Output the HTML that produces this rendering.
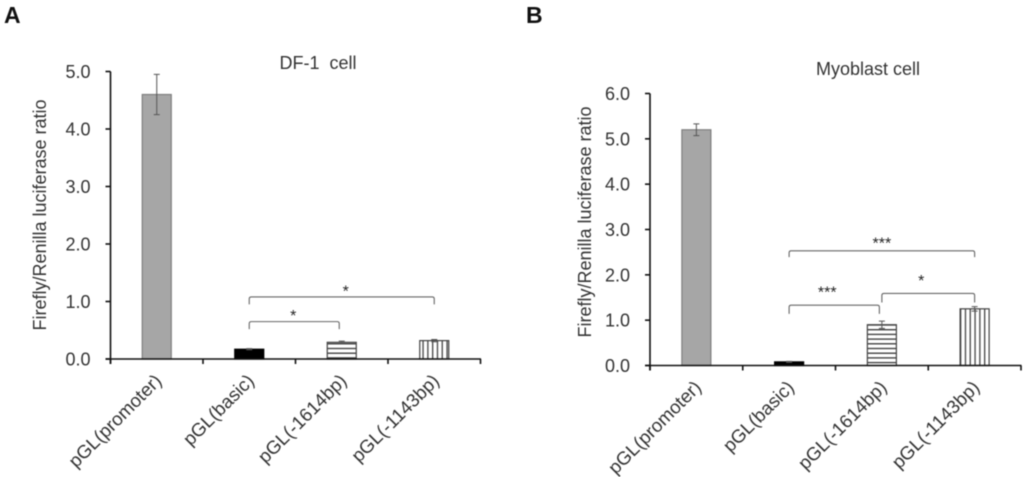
<!DOCTYPE html>
<html lang="en">
<head>
<meta charset="utf-8">
<title>Luciferase ratio charts</title>
<style>
html,body{margin:0;padding:0;background:#fff;width:1024px;height:477px;overflow:hidden}
svg{display:block;font-family:"Liberation Sans",sans-serif;filter:blur(0.4px)}
</style>
</head>
<body>
<svg id="chart" width="1024" height="477" viewBox="0 0 1024 477" xmlns="http://www.w3.org/2000/svg">
<defs>
<pattern id="hatch-h" width="8" height="4.7" patternUnits="userSpaceOnUse"><rect width="8" height="4.7" fill="#fff"/><rect y="0" width="8" height="1.4" fill="#444"/></pattern>
<pattern id="hatch-v" width="4.8" height="8" patternUnits="userSpaceOnUse"><rect width="4.8" height="8" fill="#fff"/><rect x="0" width="1.3" height="8" fill="#444"/></pattern>
</defs>
</svg>
<script>
const categories = ['pGL(promoter)', 'pGL(basic)', 'pGL(-1614bp)', 'pGL(-1143bp)'];
const fills = ['#a6a6a6', '#000000', 'url(#hatch-h)', 'url(#hatch-v)'];
const strokes = ['#7f7f7f', '#000000', '#444444', '#444444'];

const dfTicks = [0, 1, 2, 3, 4, 5];
const dfValues = [4.6, 0.17, 0.29, 0.32];
const dfErrors = [0.35, 0.01, 0.02, 0.02];
const dfBrackets = [
  {from: 1, to: 2, level: 0.65, drop: 0.13, label: '*', lift: 9, shift: -1},
  {from: 1, to: 3, level: 1.08, drop: 0.13, label: '*', lift: 9, shift: 4}
];

const myoTicks = [0, 1, 2, 3, 4, 5, 6];
const myoValues = [5.2, 0.08, 0.9, 1.25];
const myoErrors = [0.13, 0.01, 0.08, 0.05];
const myoBrackets = [
  {from: 1, to: 2, level: 1.33, drop: 0.19, label: '***', lift: 16, shift: -7},
  {from: 2, to: 3, level: 1.59, drop: 0.2, label: '*', lift: 16, shift: -7},
  {from: 1, to: 3, level: 2.53, drop: 0.14, label: '***', lift: 11, shift: 0}
];

const svg = document.getElementById('chart');
const NS = 'http://www.w3.org/2000/svg';

function mk(tag, attrs, text) {
  const el = document.createElementNS(NS, tag);
  for (const k in attrs) el.setAttribute(k, attrs[k]);
  if (text !== undefined) el.textContent = text;
  svg.appendChild(el);
  return el;
}

function drawPanel(p) {
  const maxTick = p.ticks[p.ticks.length - 1];
  const yPos = v => p.y0 - (v / maxTick) * (p.y0 - p.y1);
  const xPos = i => p.x0 + (i + 0.5) * p.step;
  const x1 = p.x0 + p.step * categories.length;
  const prefix = p.prefix;

  // bars
  p.values.forEach((v, i) => {
    const bar = mk('rect', {x: xPos(i) - 14.5, y: yPos(v), width: 29, height: p.y0 - yPos(v), fill: fills[i], stroke: strokes[i], 'stroke-width': 1.2});
    
    
    const e = p.errors[i];
    const err = mk('path', {
      d: 'M' + (xPos(i) - 3) + ' ' + yPos(v + e) + 'H' + (xPos(i) + 3) +
         'M' + xPos(i) + ' ' + yPos(v + e) + 'V' + yPos(v - e) +
         'M' + (xPos(i) - 3) + ' ' + yPos(v - e) + 'H' + (xPos(i) + 3),
      fill: 'none', stroke: '#555', 'stroke-width': 1});
    
    
  });

  // axes
  const yAxis = mk('line', {x1: p.x0, x2: p.x0, y1: yPos(maxTick), y2: p.y0 + 5, stroke: '#111', 'stroke-width': 1.6});
  
  
  const xAxis = mk('line', {x1: p.x0 - 5, x2: x1 + 0.5, y1: p.y0, y2: p.y0, stroke: '#111', 'stroke-width': 1.6});
  
  

  p.ticks.forEach(t => {
    const tick = mk('line', {x1: p.x0 - 5, x2: p.x0, y1: yPos(t), y2: yPos(t), stroke: '#111', 'stroke-width': 1.6});
    
    
    const lab = mk('text', {x: p.x0 - 20, y: yPos(t) + 6.5, 'text-anchor': 'end', 'font-size': 18, fill: '#333'}, t.toFixed(1));
    
    
  });

  for (let i = 0; i <= categories.length; i++) {
    const x = p.x0 + i * p.step;
    const tick = mk('line', {x1: x, x2: x, y1: p.y0, y2: p.y0 + 5, stroke: '#111', 'stroke-width': 1.6});
    
    
  }

  categories.forEach((c, i) => {
    const ax = xPos(i) + 6, ay = p.y0 + 23;
    const lab = mk('text', {x: ax, y: ay, 'text-anchor': 'end', 'font-size': 18.7, fill: '#333', transform: 'rotate(-45 ' + ax + ' ' + ay + ')'}, c);
    
    
  });

  // significance brackets
  p.brackets.forEach(b => {
    const a = xPos(b.from), z = xPos(b.to) + (b.to === 2 ? -2.5 : 0);
    const yTop = yPos(b.level), yEnd = yPos(b.level - b.drop);
    const br = mk('path', {d: 'M' + a + ' ' + yEnd + 'V' + (yTop + 2) + 'Q' + a + ' ' + yTop + ' ' + (a + 2) + ' ' + yTop + 'H' + (z - 2) + 'Q' + z + ' ' + yTop + ' ' + z + ' ' + (yTop + 2) + 'V' + yEnd, fill: 'none', stroke: '#666', 'stroke-width': 1.1});
    
    
    const star = mk('text', {x: (a + z) / 2 + b.shift, y: yTop - b.lift + 8.5, 'text-anchor': 'middle', 'font-size': 16, fill: '#222'}, b.label);
    
    
  });

  const yt = mk('text', {x: p.titleX, y: p.titleY, 'text-anchor': 'middle', 'font-size': 18, fill: '#333', transform: 'rotate(-90 ' + p.titleX + ' ' + p.titleY + ')'}, 'Firefly/Renilla luciferase ratio');
  
  

  const ct = mk('text', {x: p.chartTitleX, y: p.chartTitleY, 'text-anchor': 'middle', 'font-size': 18, fill: '#333', 'xml:space': 'preserve'}, p.title);
  ct.style.whiteSpace = 'pre';
  
  

  const pl = mk('text', {x: p.panelX, y: 23, 'font-size': 23, 'font-weight': 700, fill: '#111'}, p.panel);
  
  
}

drawPanel({prefix: 'df1', panel: 'A', panelX: 4, title: 'DF-1  cell', chartTitleX: 318, chartTitleY: 69,
  x0: 110.5, step: 92.5, y0: 359, y1: 71.5, ticks: dfTicks, values: dfValues, errors: dfErrors, brackets: dfBrackets,
  titleX: 46, titleY: 215});
drawPanel({prefix: 'myoblast', panel: 'B', panelX: 526, title: 'Myoblast cell', chartTitleX: 868, chartTitleY: 75,
  x0: 650, step: 92.75, y0: 365.5, y1: 93.5, ticks: myoTicks, values: myoValues, errors: myoErrors, brackets: myoBrackets,
  titleX: 591, titleY: 222});
</script>
</body>
</html>
